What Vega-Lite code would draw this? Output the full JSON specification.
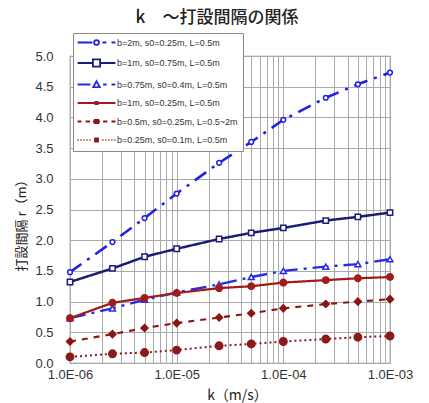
{
  "$schema": "https://vega.github.io/schema/vega-lite/v6.json",
  "autosize": {"type": "none"},
  "width": 320,
  "height": 307,
  "padding": {"left": 70, "top": 56, "right": 39, "bottom": 40},
  "background": "white",
  "title": {"text": "k　～打設間隔の関係", "font": "Noto Sans CJK JP", "fontSize": 17, "fontWeight": 500, "color": "#222", "anchor": "middle", "frame": "group", "baseline": "bottom", "offset": 9, "dx": -13, "dy": 20},
  "config": {
    "view": {"stroke": "#888", "strokeWidth": 1.2},
    "axis": {"gridColor": "#aaa", "gridWidth": 1, "domain": false, "ticks": false, "labelFont": "Liberation Sans", "labelFontSize": 13, "labelColor": "#333", "titleFont": "Noto Sans CJK JP", "titleFontWeight": "normal", "titleColor": "#222"}
  },
  "data": {"values": [
    {"s": "b=2m, s0=0.25m, L=0.5m", "k": 1e-6, "r": 1.48},
    {"s": "b=2m, s0=0.25m, L=0.5m", "k": 2.5e-6, "r": 1.97},
    {"s": "b=2m, s0=0.25m, L=0.5m", "k": 5e-6, "r": 2.36},
    {"s": "b=2m, s0=0.25m, L=0.5m", "k": 1e-5, "r": 2.76},
    {"s": "b=2m, s0=0.25m, L=0.5m", "k": 2.5e-5, "r": 3.26},
    {"s": "b=2m, s0=0.25m, L=0.5m", "k": 5e-5, "r": 3.60},
    {"s": "b=2m, s0=0.25m, L=0.5m", "k": 1e-4, "r": 3.96},
    {"s": "b=2m, s0=0.25m, L=0.5m", "k": 2.5e-4, "r": 4.32},
    {"s": "b=2m, s0=0.25m, L=0.5m", "k": 5e-4, "r": 4.54},
    {"s": "b=2m, s0=0.25m, L=0.5m", "k": 1e-3, "r": 4.73},
    {"s": "b=1m, s0=0.75m, L=0.5m", "k": 1e-6, "r": 1.32},
    {"s": "b=1m, s0=0.75m, L=0.5m", "k": 2.5e-6, "r": 1.54},
    {"s": "b=1m, s0=0.75m, L=0.5m", "k": 5e-6, "r": 1.73},
    {"s": "b=1m, s0=0.75m, L=0.5m", "k": 1e-5, "r": 1.86},
    {"s": "b=1m, s0=0.75m, L=0.5m", "k": 2.5e-5, "r": 2.02},
    {"s": "b=1m, s0=0.75m, L=0.5m", "k": 5e-5, "r": 2.12},
    {"s": "b=1m, s0=0.75m, L=0.5m", "k": 1e-4, "r": 2.20},
    {"s": "b=1m, s0=0.75m, L=0.5m", "k": 2.5e-4, "r": 2.32},
    {"s": "b=1m, s0=0.75m, L=0.5m", "k": 5e-4, "r": 2.38},
    {"s": "b=1m, s0=0.75m, L=0.5m", "k": 1e-3, "r": 2.45},
    {"s": "b=0.75m, s0=0.4m, L=0.5m", "k": 1e-6, "r": 0.73},
    {"s": "b=0.75m, s0=0.4m, L=0.5m", "k": 2.5e-6, "r": 0.89},
    {"s": "b=0.75m, s0=0.4m, L=0.5m", "k": 5e-6, "r": 1.03},
    {"s": "b=0.75m, s0=0.4m, L=0.5m", "k": 1e-5, "r": 1.15},
    {"s": "b=0.75m, s0=0.4m, L=0.5m", "k": 2.5e-5, "r": 1.28},
    {"s": "b=0.75m, s0=0.4m, L=0.5m", "k": 5e-5, "r": 1.40},
    {"s": "b=0.75m, s0=0.4m, L=0.5m", "k": 1e-4, "r": 1.50},
    {"s": "b=0.75m, s0=0.4m, L=0.5m", "k": 2.5e-4, "r": 1.57},
    {"s": "b=0.75m, s0=0.4m, L=0.5m", "k": 5e-4, "r": 1.61},
    {"s": "b=0.75m, s0=0.4m, L=0.5m", "k": 1e-3, "r": 1.69},
    {"s": "b=1m, s0=0.25m, L=0.5m", "k": 1e-6, "r": 0.73},
    {"s": "b=1m, s0=0.25m, L=0.5m", "k": 2.5e-6, "r": 0.98},
    {"s": "b=1m, s0=0.25m, L=0.5m", "k": 5e-6, "r": 1.06},
    {"s": "b=1m, s0=0.25m, L=0.5m", "k": 1e-5, "r": 1.14},
    {"s": "b=1m, s0=0.25m, L=0.5m", "k": 2.5e-5, "r": 1.22},
    {"s": "b=1m, s0=0.25m, L=0.5m", "k": 5e-5, "r": 1.25},
    {"s": "b=1m, s0=0.25m, L=0.5m", "k": 1e-4, "r": 1.31},
    {"s": "b=1m, s0=0.25m, L=0.5m", "k": 2.5e-4, "r": 1.35},
    {"s": "b=1m, s0=0.25m, L=0.5m", "k": 5e-4, "r": 1.38},
    {"s": "b=1m, s0=0.25m, L=0.5m", "k": 1e-3, "r": 1.40},
    {"s": "b=0.5m, s0=0.25m, L=0.5~2m", "k": 1e-6, "r": 0.35},
    {"s": "b=0.5m, s0=0.25m, L=0.5~2m", "k": 2.5e-6, "r": 0.47},
    {"s": "b=0.5m, s0=0.25m, L=0.5~2m", "k": 5e-6, "r": 0.57},
    {"s": "b=0.5m, s0=0.25m, L=0.5~2m", "k": 1e-5, "r": 0.65},
    {"s": "b=0.5m, s0=0.25m, L=0.5~2m", "k": 2.5e-5, "r": 0.74},
    {"s": "b=0.5m, s0=0.25m, L=0.5~2m", "k": 5e-5, "r": 0.81},
    {"s": "b=0.5m, s0=0.25m, L=0.5~2m", "k": 1e-4, "r": 0.89},
    {"s": "b=0.5m, s0=0.25m, L=0.5~2m", "k": 2.5e-4, "r": 0.96},
    {"s": "b=0.5m, s0=0.25m, L=0.5~2m", "k": 5e-4, "r": 1.00},
    {"s": "b=0.5m, s0=0.25m, L=0.5~2m", "k": 1e-3, "r": 1.04},
    {"s": "b=0.25m, s0=0.1m, L=0.5m", "k": 1e-6, "r": 0.10},
    {"s": "b=0.25m, s0=0.1m, L=0.5m", "k": 2.5e-6, "r": 0.15},
    {"s": "b=0.25m, s0=0.1m, L=0.5m", "k": 5e-6, "r": 0.17},
    {"s": "b=0.25m, s0=0.1m, L=0.5m", "k": 1e-5, "r": 0.21},
    {"s": "b=0.25m, s0=0.1m, L=0.5m", "k": 2.5e-5, "r": 0.28},
    {"s": "b=0.25m, s0=0.1m, L=0.5m", "k": 5e-5, "r": 0.31},
    {"s": "b=0.25m, s0=0.1m, L=0.5m", "k": 1e-4, "r": 0.35},
    {"s": "b=0.25m, s0=0.1m, L=0.5m", "k": 2.5e-4, "r": 0.39},
    {"s": "b=0.25m, s0=0.1m, L=0.5m", "k": 5e-4, "r": 0.42},
    {"s": "b=0.25m, s0=0.1m, L=0.5m", "k": 1e-3, "r": 0.44}
  ]},
  "encoding": {
    "x": {"field": "k", "type": "quantitative", "scale": {"type": "log", "domain": [1e-6, 1e-3], "nice": false},
      "axis": {"title": "k（m/s）", "titleFontSize": 14, "titlePadding": 7, "titleX": 167, "labelPadding": 5, "labelOverlap": false, "labelBound": false, "labelFlush": false,
        "values": [1e-6, 2e-6, 3e-6, 4e-6, 5e-6, 6e-6, 7e-6, 8e-6, 9e-6, 1e-5, 2e-5, 3e-5, 4e-5, 5e-5, 6e-5, 7e-5, 8e-5, 9e-5, 1e-4, 2e-4, 3e-4, 4e-4, 5e-4, 6e-4, 7e-4, 8e-4, 9e-4, 1e-3],
        "labelExpr": "abs(log(datum.value)/LN10 - round(log(datum.value)/LN10)) < 0.001 ? replace(upper(format(datum.value, '.1e')), 'E-', 'E-0') : ''"}},
    "y": {"field": "r", "type": "quantitative", "scale": {"domain": [0, 5], "nice": false},
      "axis": {"title": "打設間隔 r（m）", "titleFontSize": 13, "titlePadding": 6, "titleY": 166, "labelPadding": 17, "format": ".1f", "values": [0, 0.5, 1, 1.5, 2, 2.5, 3, 3.5, 4, 4.5, 5]}}
  },
  "layer": [
    {
      "mark": {"type": "line"},
      "encoding": {
        "color": {"field": "s", "type": "nominal", "legend": null, "scale": {"domain": ["b=2m, s0=0.25m, L=0.5m", "b=1m, s0=0.75m, L=0.5m", "b=0.75m, s0=0.4m, L=0.5m", "b=1m, s0=0.25m, L=0.5m", "b=0.5m, s0=0.25m, L=0.5~2m", "b=0.25m, s0=0.1m, L=0.5m"], "range": ["#2121e6", "#1b1b78", "#2a2ae6", "#a01c1c", "#8c1414", "#8c1a1a"]}},
        "strokeDash": {"field": "s", "type": "nominal", "legend": null, "scale": {"domain": ["b=2m, s0=0.25m, L=0.5m", "b=1m, s0=0.75m, L=0.5m", "b=0.75m, s0=0.4m, L=0.5m", "b=1m, s0=0.25m, L=0.5m", "b=0.5m, s0=0.25m, L=0.5~2m", "b=0.25m, s0=0.1m, L=0.5m"], "range": [[14, 7, 3, 7], [1, 0], [16, 6, 3, 6], [1, 0], [6, 6], [2, 3]]}},
        "strokeWidth": {"field": "s", "type": "nominal", "legend": null, "scale": {"domain": ["b=2m, s0=0.25m, L=0.5m", "b=1m, s0=0.75m, L=0.5m", "b=0.75m, s0=0.4m, L=0.5m", "b=1m, s0=0.25m, L=0.5m", "b=0.5m, s0=0.25m, L=0.5~2m", "b=0.25m, s0=0.1m, L=0.5m"], "range": [2.6, 2, 2.6, 2, 2.6, 1.2]}}
      }
    },
    {
      "mark": {"type": "point", "filled": true, "strokeWidth": 1.5, "opacity": 1},
      "encoding": {
        "stroke": {"field": "s", "type": "nominal", "legend": null, "scale": {"domain": ["b=2m, s0=0.25m, L=0.5m", "b=1m, s0=0.75m, L=0.5m", "b=0.75m, s0=0.4m, L=0.5m", "b=1m, s0=0.25m, L=0.5m", "b=0.5m, s0=0.25m, L=0.5~2m", "b=0.25m, s0=0.1m, L=0.5m"], "range": ["#2121e6", "#1b1b78", "#2a2ae6", "#a01c1c", "#8c1414", "#8c1a1a"]}},
        "fill": {"field": "s", "type": "nominal", "legend": null, "scale": {"domain": ["b=2m, s0=0.25m, L=0.5m", "b=1m, s0=0.75m, L=0.5m", "b=0.75m, s0=0.4m, L=0.5m", "b=1m, s0=0.25m, L=0.5m", "b=0.5m, s0=0.25m, L=0.5~2m", "b=0.25m, s0=0.1m, L=0.5m"], "range": ["white", "white", "white", "#a01c1c", "#8c1414", "#8c1a1a"]}},
        "shape": {"field": "s", "type": "nominal", "legend": null, "scale": {"domain": ["b=2m, s0=0.25m, L=0.5m", "b=1m, s0=0.75m, L=0.5m", "b=0.75m, s0=0.4m, L=0.5m", "b=1m, s0=0.25m, L=0.5m", "b=0.5m, s0=0.25m, L=0.5~2m", "b=0.25m, s0=0.1m, L=0.5m"], "range": ["circle", "square", "triangle-up", "circle", "diamond", "circle"]}},
        "size": {"field": "s", "type": "nominal", "legend": null, "scale": {"domain": ["b=2m, s0=0.25m, L=0.5m", "b=1m, s0=0.75m, L=0.5m", "b=0.75m, s0=0.4m, L=0.5m", "b=1m, s0=0.25m, L=0.5m", "b=0.5m, s0=0.25m, L=0.5~2m", "b=0.25m, s0=0.1m, L=0.5m"], "range": [22, 55, 40, 8, 28, 18]}}
      }
    },
    {
      "mark": {"type": "point", "filled": false, "opacity": 0},
      "encoding": {
        "color": {"field": "s", "type": "nominal", "scale": {"domain": ["b=2m, s0=0.25m, L=0.5m", "b=1m, s0=0.75m, L=0.5m", "b=0.75m, s0=0.4m, L=0.5m", "b=1m, s0=0.25m, L=0.5m", "b=0.5m, s0=0.25m, L=0.5~2m", "b=0.25m, s0=0.1m, L=0.5m"], "range": ["#2121e6", "#1b1b78", "#2a2ae6", "#a01c1c", "#8c1414", "#8c1a1a"]},
          "legend": {"title": null, "orient": "none", "legendX": 3, "legendY": -23, "padding": 5, "fillColor": "white", "strokeColor": "#888", "symbolOpacity": 1, "symbolSize": 36, "symbolStrokeWidth": 1.8, "symbolOffset": 14, "labelOffset": 16, "rowPadding": 6.5, "labelFont": "Liberation Sans", "labelFontSize": 9, "labelColor": "#333", "cornerRadius": 0}},
        "shape": {"field": "s", "type": "nominal", "scale": {"domain": ["b=2m, s0=0.25m, L=0.5m", "b=1m, s0=0.75m, L=0.5m", "b=0.75m, s0=0.4m, L=0.5m", "b=1m, s0=0.25m, L=0.5m", "b=0.5m, s0=0.25m, L=0.5~2m", "b=0.25m, s0=0.1m, L=0.5m"],
          "range": [
            "M-6.3,0H-1.4 M-0.8,0A0.8,0.8 0 1,0 0.8,0A0.8,0.8 0 1,0 -0.8,0 M2,0H3.3 M5,0H6.3",
            "M-6.3,0H-1.2 M1.2,0H6.3 M-1.2,-1.2H1.2V1.2H-1.2Z",
            "M-6.3,0H-2 M0,-1.1L1.1,0.9H-1.1Z M2.2,0H3.4 M5,0H6.3",
            "M-6.3,0H6.3 M-0.4,-0.4H0.4V0.4H-0.4Z",
            "M-6.3,0H-5 M-3.6,0H-2.2 M-1.2,0H1.2 M0,-0.8V0.8 M-0.6,-0.5H0.6V0.5H-0.6Z M2.2,0H3.6 M5,0H6.3",
            "M-6.3,0H-6 M-5.3,0H-5 M-4.3,0H-4 M-3.3,0H-3 M-2.3,0H-2 M-0.5,-0.5H0.5V0.5H-0.5Z M0,-0.5V0.5 M2,0H2.3 M3,0H3.3 M4,0H4.3 M5,0H5.3 M6,0H6.3"
          ]}}
      }
    }
  ],
  "resolve": {"scale": {"color": "independent", "shape": "independent"}}
}
